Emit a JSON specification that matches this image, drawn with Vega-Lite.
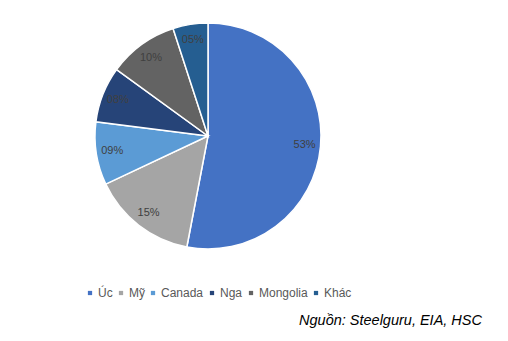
{
  "$schema": "https://vega.github.io/schema/vega-lite/v6.json",
  "width": 416,
  "height": 272,
  "autosize": {"type": "none"},
  "padding": {"left": 0, "top": 0, "right": 92, "bottom": 69},
  "background": "white",
  "config": {"view": {"stroke": null}, "font": "Liberation Sans"},
  "title": {
    "text": "Nguồn: Steelguru, EIA, HSC",
    "orient": "bottom",
    "anchor": "end",
    "fontStyle": "italic",
    "fontWeight": "normal",
    "fontSize": 14.5,
    "color": "#000000",
    "font": "Liberation Sans",
    "offset": 15,
    "dx": 66
  },
  "data": {
    "values": [
      {"k": "Úc", "v": 53, "label": "53%", "i": 1},
      {"k": "Mỹ", "v": 15, "label": "15%", "i": 2},
      {"k": "Canada", "v": 9, "label": "09%", "i": 3},
      {"k": "Nga", "v": 8, "label": "08%", "i": 4},
      {"k": "Mongolia", "v": 10, "label": "10%", "i": 5},
      {"k": "Khác", "v": 5, "label": "05%", "i": 6}
    ]
  },
  "encoding": {
    "theta": {"field": "v", "type": "quantitative", "stack": true},
    "order": {"field": "i", "type": "quantitative"},
    "color": {
      "field": "k",
      "type": "nominal",
      "scale": {
        "domain": ["Úc", "Mỹ", "Canada", "Nga", "Mongolia", "Khác"],
        "range": ["#4472C4", "#A5A5A5", "#5B9BD5", "#264478", "#636363", "#255E91"]
      },
      "legend": {
        "title": null,
        "orient": "none",
        "direction": "horizontal",
        "legendX": 84,
        "legendY": 287,
        "symbolType": "square",
        "symbolSize": 18,
        "symbolStrokeWidth": 0,
        "labelFontSize": 12,
        "labelColor": "#595959",
        "labelFont": "Liberation Sans",
        "labelOffset": 2,
        "columnPadding": 2
      }
    }
  },
  "layer": [
    {"mark": {"type": "arc", "outerRadius": 113, "stroke": "white", "strokeWidth": 1.5}},
    {
      "mark": {"type": "text", "radius": 97, "fontSize": 11, "color": "#404040", "font": "Liberation Sans"},
      "encoding": {"text": {"field": "label"}, "color": {"value": "#404040"}}
    }
  ]
}
